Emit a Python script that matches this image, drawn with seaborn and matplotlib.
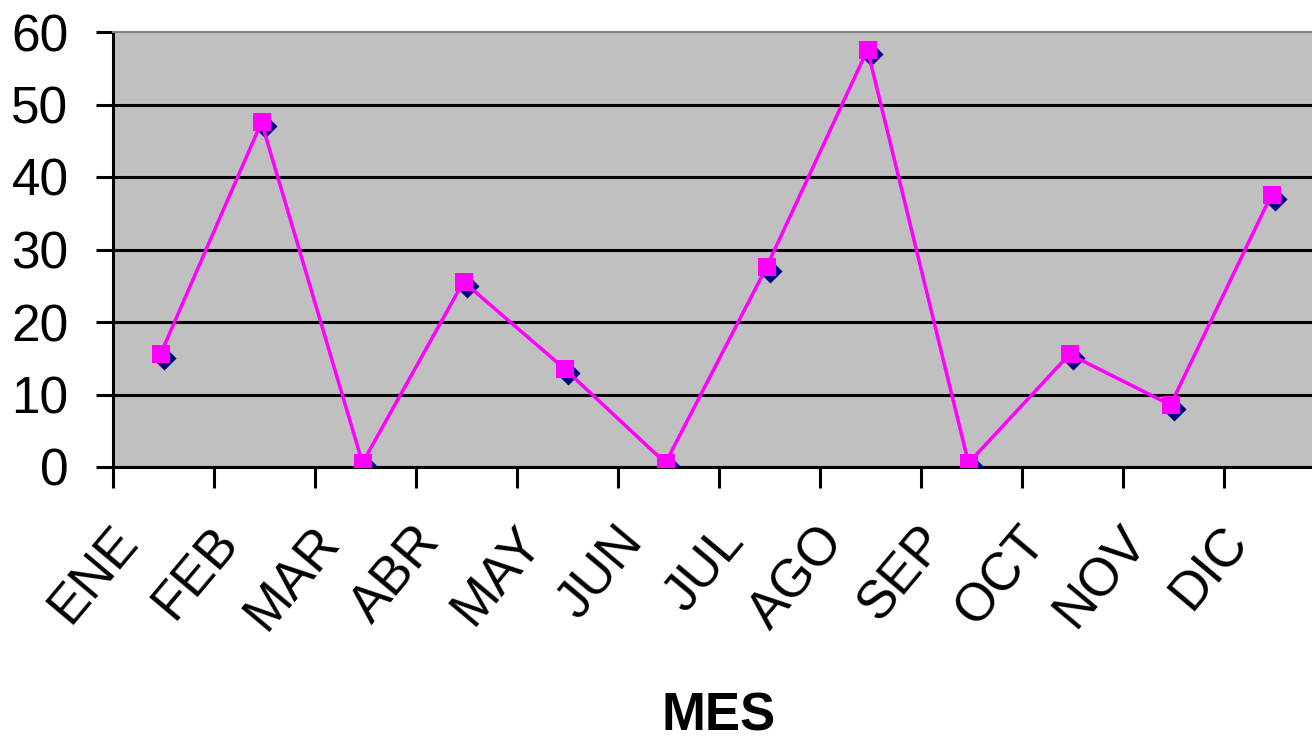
import numpy as np
import pandas as pd
import matplotlib
matplotlib.use("Agg")
import matplotlib.pyplot as plt
import matplotlib.transforms as mtransforms
import seaborn as sns

# ----------------------------------------------------------
# Data
# ----------------------------------------------------------
meses = ["ENE", "FEB", "MAR", "ABR", "MAY", "JUN",
         "JUL", "AGO", "SEP", "OCT", "NOV", "DIC"]
serie_1 = [15, 47, 0, 25, 13, 0, 27, 57, 0, 15, 8, 37]
serie_2 = [15, 47, 0, 25, 13, 0, 27, 57, 0, 15, 8, 37]
y_ticks = [0, 10, 20, 30, 40, 50, 60]
x_title = "MES"

df = pd.DataFrame({
    "mes": meses,
    "pos": np.arange(len(meses)),
    "serie_1": serie_1,
    "serie_2": serie_2,
})

# ----------------------------------------------------------
# Style
# ----------------------------------------------------------
sns.set_style("white")
plt.rcParams["font.family"] = ["Liberation Sans", "DejaVu Sans"]
plt.rcParams["text.color"] = "black"
plt.rcParams["xtick.color"] = "black"
plt.rcParams["ytick.color"] = "black"
fs = 37

W, H = 1312, 742
fig = plt.figure(figsize=(W / 100, H / 100), dpi=100)
ax = fig.add_axes([113 / W, 1 - 467 / H, 1212 / W, 435 / H])
ax.set_facecolor("#C0C0C0")

# diamonds (navy) sit under the magenta squares, a few pixels apart
shift_sq = mtransforms.offset_copy(ax.transData, fig=fig, x=-3, y=4, units="dots")

sns.scatterplot(data=df, x="pos", y="serie_1", marker="D", s=150,
                color="#000080", linewidth=0, ax=ax, zorder=3, legend=False)
sns.lineplot(data=df, x="pos", y="serie_2", color="#FF00FF", linewidth=2.5,
             marker="s", markersize=13, markeredgewidth=0, ax=ax, zorder=4,
             transform=shift_sq, legend=False)

# ----------------------------------------------------------
# Axes
# ----------------------------------------------------------
ax.set_xlim(-0.5, len(meses) - 0.5)
ax.set_ylim(y_ticks[0], y_ticks[-1])
ax.set_yticks(y_ticks)
ax.set_yticklabels([str(v) for v in y_ticks], fontsize=fs, color="black")
ax.tick_params(axis="y", left=True, direction="out", length=12, width=2.2,
               color="black", pad=20)

ax.set_xticks(np.arange(len(meses)))
ax.set_xticklabels(meses, rotation=50, ha="right", fontsize=38, color="black")
ax.set_xticks(np.arange(len(meses) + 1) - 0.5, minor=True)
ax.tick_params(axis="x", which="major", bottom=True, length=0, pad=36)
ax.tick_params(axis="x", which="minor", bottom=True, direction="out",
               length=15, width=2.2, color="black")
for lab in ax.get_xticklabels():
    lab.set_transform(lab.get_transform()
                      + mtransforms.ScaledTranslation(-0.16, 0, fig.dpi_scale_trans))

ax.yaxis.grid(True, color="black", linewidth=2.2)
ax.xaxis.grid(False)
ax.get_ygridlines()[-1].set_visible(False)
ax.set_axisbelow(True)

for side in ["left", "bottom"]:
    ax.spines[side].set_color("black")
    ax.spines[side].set_linewidth(2.2)
ax.spines["top"].set_color("#808080")
ax.spines["top"].set_linewidth(1.5)
ax.spines["right"].set_visible(False)

ax.set_ylabel("")
ax.set_xlabel(x_title, fontsize=38, fontweight="bold", color="black")
ax.xaxis.set_label_coords(0.5, -0.515)

fig.savefig("out.png", dpi=100)
